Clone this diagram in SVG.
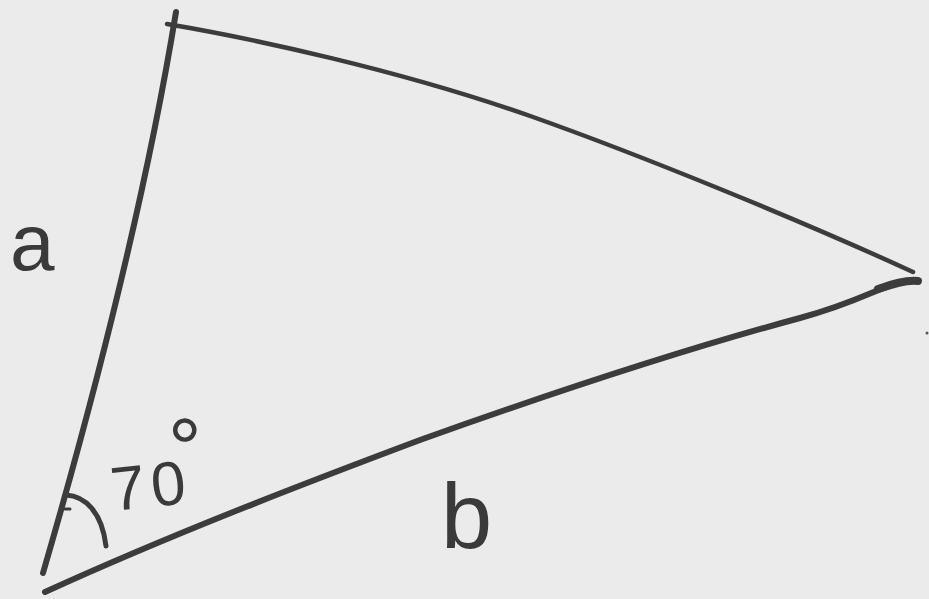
<svg xmlns="http://www.w3.org/2000/svg" width="929" height="599" viewBox="0 0 929 599">
<style>
.ln{fill:none;stroke:#3c3c3c;stroke-linecap:round;stroke-linejoin:round}
.lb{font-family:"Liberation Sans",Arial,sans-serif;fill:#3a3a3a}
</style>
<rect width="929" height="599" fill="#ebebeb"/>
<g id="edges">
<path class="ln" stroke-width="6" d="M176,12 Q137,250 43,573"/>
<path class="ln" stroke-width="4.5" d="M167,24 C250,38 400,70 533,117 C640,155 800,220 913,272"/>
<path class="ln" stroke-width="6" d="M45,592 C170,535 300,485 420,440 C560,390 700,345 800,318 C860,302 885,284 906,281"/>
<path class="ln" stroke-width="8" d="M878,289 C893,284 905,280 918,281"/>
</g>
<g id="angle">
<path class="ln" stroke-width="5" d="M66,495 C85,496 102,512 106,546"/>
<path class="ln" stroke-width="3" d="M65,509 L70,509"/>
</g>
<g id="labels">
<text class="lb" x="10" y="270" font-size="80">a</text>
<text class="lb" x="441" y="548" font-size="92">b</text>
<text class="lb" x="110" y="507" font-size="62" transform="rotate(-6 150 480)">7<tspan dx="6">0</tspan><tspan font-size="84" dx="-12" dy="-26">°</tspan></text>
</g>
<circle cx="927" cy="333" r="1.5" fill="#555"/>
</svg>
